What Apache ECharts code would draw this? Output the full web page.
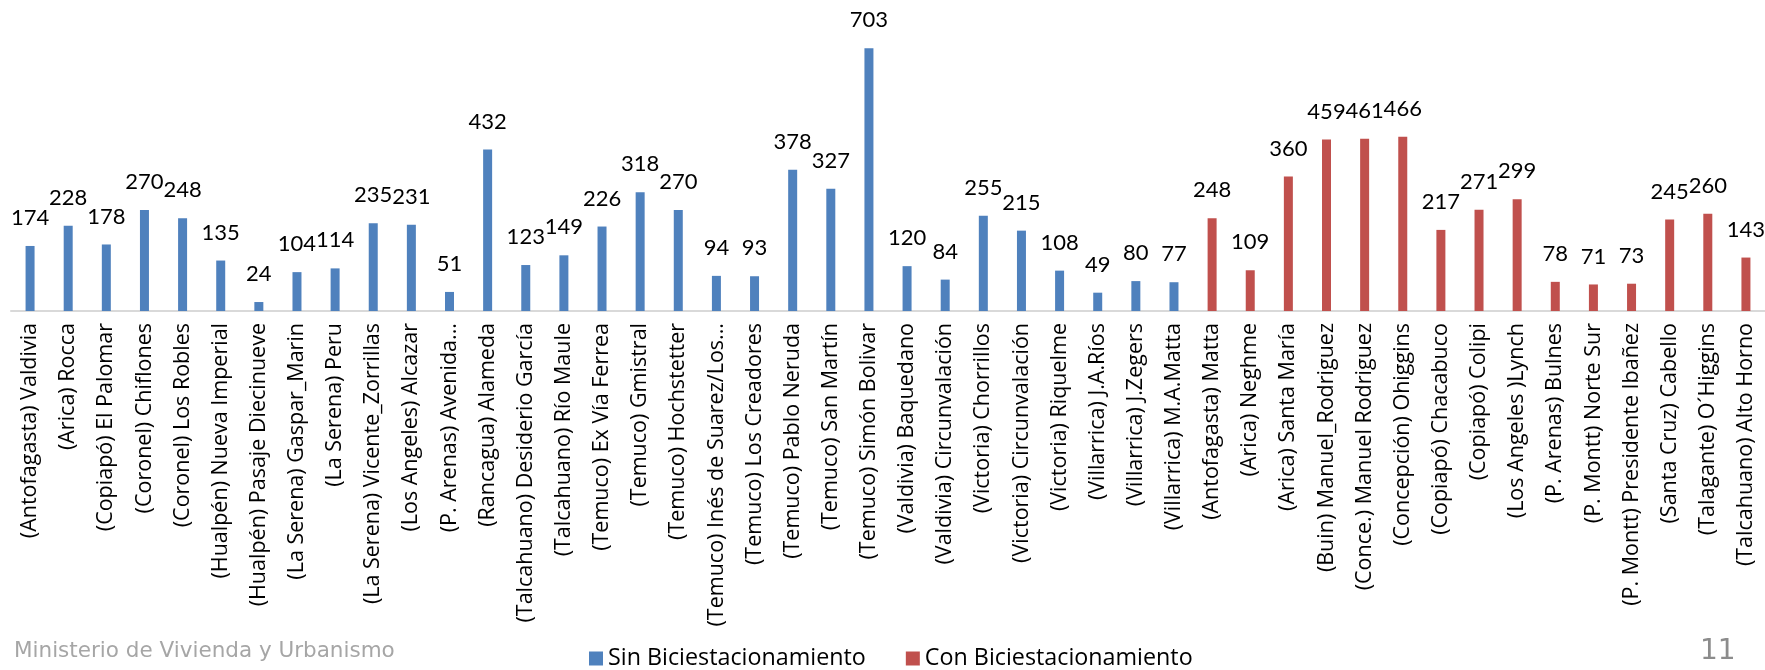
<!DOCTYPE html>
<html>
<head>
<meta charset="utf-8">
<script src="https://cdn.jsdelivr.net/npm/echarts@6/dist/echarts.min.js"></script>
<style>
html,body{margin:0;padding:0;background:#fff;}
#chart{width:1765px;height:670px;}
</style>
</head>
<body>
<div id="chart"></div>
<script>
const categories = [
  "(Antofagasta) Valdivia","(Arica) Rocca","(Copiapó) El Palomar","(Coronel) Chiflones","(Coronel) Los Robles",
  "(Hualpén) Nueva Imperial","(Hualpén) Pasaje Diecinueve","(La Serena) Gaspar_Marin","(La Serena) Peru",
  "(La Serena) Vicente_Zorrillas","(Los Angeles) Alcazar","(P. Arenas) Avenida...","(Rancagua) Alameda",
  "(Talcahuano) Desiderio García","(Talcahuano) Río Maule","(Temuco) Ex Vía Ferrea","(Temuco) Gmistral",
  "(Temuco) Hochstetter","(Temuco) Inés de Suarez/Los...","(Temuco) Los Creadores","(Temuco) Pablo Neruda",
  "(Temuco) San Martín","(Temuco) Simón Bolivar","(Valdivia) Baquedano","(Valdivia) Circunvalación",
  "(Victoria) Chorrillos","(Victoria) Circunvalación","(Victoria) Riquelme","(Villarrica) J.A.Ríos",
  "(Villarrica) J.Zegers","(Villarrica) M.A.Matta",
  "(Antofagasta) Matta","(Arica) Neghme","(Arica) Santa María","(Buin) Manuel_Rodriguez",
  "(Conce.) Manuel Rodriguez","(Concepción) Ohiggins","(Copiapó) Chacabuco","(Copiapó) Colipi",
  "(Los Angeles )Lynch","(P. Arenas) Bulnes","(P. Montt) Norte Sur","(P. Montt) Presidente Ibañez",
  "(Santa Cruz) Cabello","(Talagante) O´Higgins","(Talcahuano) Alto Horno"
];
const sinValues = [174,228,178,270,248,135,24,104,114,235,231,51,432,123,149,226,318,270,94,93,378,327,703,120,84,255,215,108,49,80,77,
  null,null,null,null,null,null,null,null,null,null,null,null,null,null,null];
const conValues = [null,null,null,null,null,null,null,null,null,null,null,null,null,null,null,null,null,null,null,null,null,null,null,null,null,null,null,null,null,null,null,
  248,109,360,459,461,466,217,271,299,78,71,73,245,260,143];
const seriesNames = ["Sin Biciestacionamiento","Con Biciestacionamiento"];
const footerText = "Ministerio de Vivienda y Urbanismo";
const pageNumber = "11";

const chart = echarts.init(document.getElementById('chart'));
const labelStyle = {show:true, position:'top', distance:17, fontFamily:'Lato', fontSize:22, color:'#000'};
chart.setOption({
  animation:false,
  textStyle:{fontFamily:'Open Sans'},
  grid:{left:11, right:0, top:12, bottom:359, containLabel:false},
  legend:{
    data:seriesNames, left:584, top:642, itemWidth:14, itemHeight:14, itemGap:40,
    icon:'rect', textStyle:{fontFamily:'Open Sans', fontSize:23.3, color:'#000'}
  },
  xAxis:{
    type:'category', data:categories,
    axisLine:{lineStyle:{color:'#d9d9d9', width:2}},
    axisTick:{show:false},
    axisLabel:{rotate:90, interval:0, margin:12, fontFamily:'Open Sans', fontSize:21.5, color:'#000'}
  },
  yAxis:{type:'value', min:0, max:800, show:false, splitLine:{show:false}},
  series:[
    {name:seriesNames[0], type:'bar', data:sinValues, barWidth:9, barGap:'-100%',
     itemStyle:{color:'#4f81bd'}, label:labelStyle},
    {name:seriesNames[1], type:'bar', data:conValues, barWidth:9, barGap:'-100%',
     itemStyle:{color:'#c0504d'}, label:labelStyle}
  ],
  graphic:[
    {type:'text', left:14, top:640, style:{text:footerText, fontFamily:'DejaVu Sans', fontSize:21.5, fill:'#a6a6a6'}},
    {type:'text', left:1700, top:638, style:{text:pageNumber, fontFamily:'DejaVu Sans', fontSize:28, fill:'#8c8c8c'}}
  ]
});
</script>
</body>
</html>
